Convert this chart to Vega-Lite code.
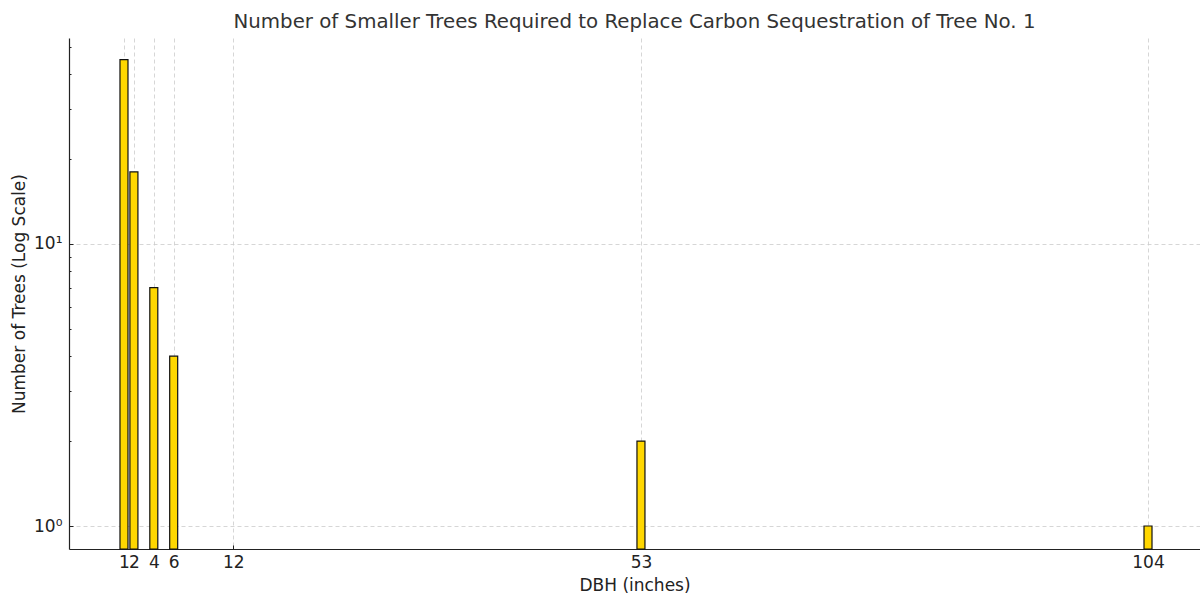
{
  "$schema": "https://vega.github.io/schema/vega-lite/v6.json",
  "width": 1131,
  "height": 511,
  "autosize": {"type": "none"},
  "padding": {"left": 69, "top": 38, "right": 0, "bottom": 46},
  "background": "white",
  "config": {
    "view": {"stroke": null},
    "font": "DejaVu Sans",
    "axis": {
      "labelFont": "DejaVu Sans",
      "titleFont": "DejaVu Sans",
      "labelFontSize": 17,
      "titleFontSize": 17,
      "labelColor": "#222222",
      "titleColor": "#222222",
      "titleFontWeight": "normal",
      "domainColor": "#222222",
      "domainWidth": 1.2,
      "tickColor": "#222222",
      "tickWidth": 1,
      "gridColor": "#cccccc",
      "gridDash": [4, 3],
      "gridWidth": 0.8,
      "zindex": 1
    }
  },
  "title": {
    "text": "Number of Smaller Trees Required to Replace Carbon Sequestration of Tree No. 1",
    "font": "DejaVu Sans",
    "fontSize": 19.8,
    "fontWeight": "normal",
    "color": "#333333",
    "anchor": "middle",
    "offset": 6
  },
  "data": {
    "values": [
      {"dbh": 1, "trees": 45},
      {"dbh": 2, "trees": 18},
      {"dbh": 4, "trees": 7},
      {"dbh": 6, "trees": 4},
      {"dbh": 53, "trees": 2},
      {"dbh": 104, "trees": 1}
    ]
  },
  "mark": {"type": "bar", "size": 8, "fill": "#FFD700", "stroke": "#111111", "strokeWidth": 1.2},
  "encoding": {
    "x": {
      "field": "dbh",
      "type": "quantitative",
      "scale": {"domain": [-4.53, 109.23], "nice": false, "zero": false, "padding": 0},
      "axis": {
        "title": "DBH (inches)",
        "values": [1, 2, 4, 6, 12, 53, 104],
        "labelOverlap": false,
        "labelFlush": false,
        "tickSize": -4,
        "labelPadding": 9,
        "titlePadding": 7,
        "grid": true
      }
    },
    "y": {
      "field": "trees",
      "type": "quantitative",
      "scale": {"type": "log", "domain": [0.829, 53.7], "nice": false, "zero": false, "padding": 0},
      "axis": {
        "title": "Number of Trees (Log Scale)",
        "values": [1, 2, 3, 4, 5, 6, 7, 8, 9, 10, 20, 30, 40, 50],
        "labelExpr": "datum.value == 1 ? '10⁰' : datum.value == 10 ? '10¹' : ''",
        "tickSize": {"condition": {"test": "datum.value == 1 || datum.value == 10", "value": -4}, "value": -2},
        "gridOpacity": {"condition": {"test": "datum.value == 1 || datum.value == 10", "value": 1}, "value": 0},
        "labelPadding": 11,
        "titlePadding": 5,
        "grid": true
      }
    },
    "y2": {"datum": 0.829}
  }
}
